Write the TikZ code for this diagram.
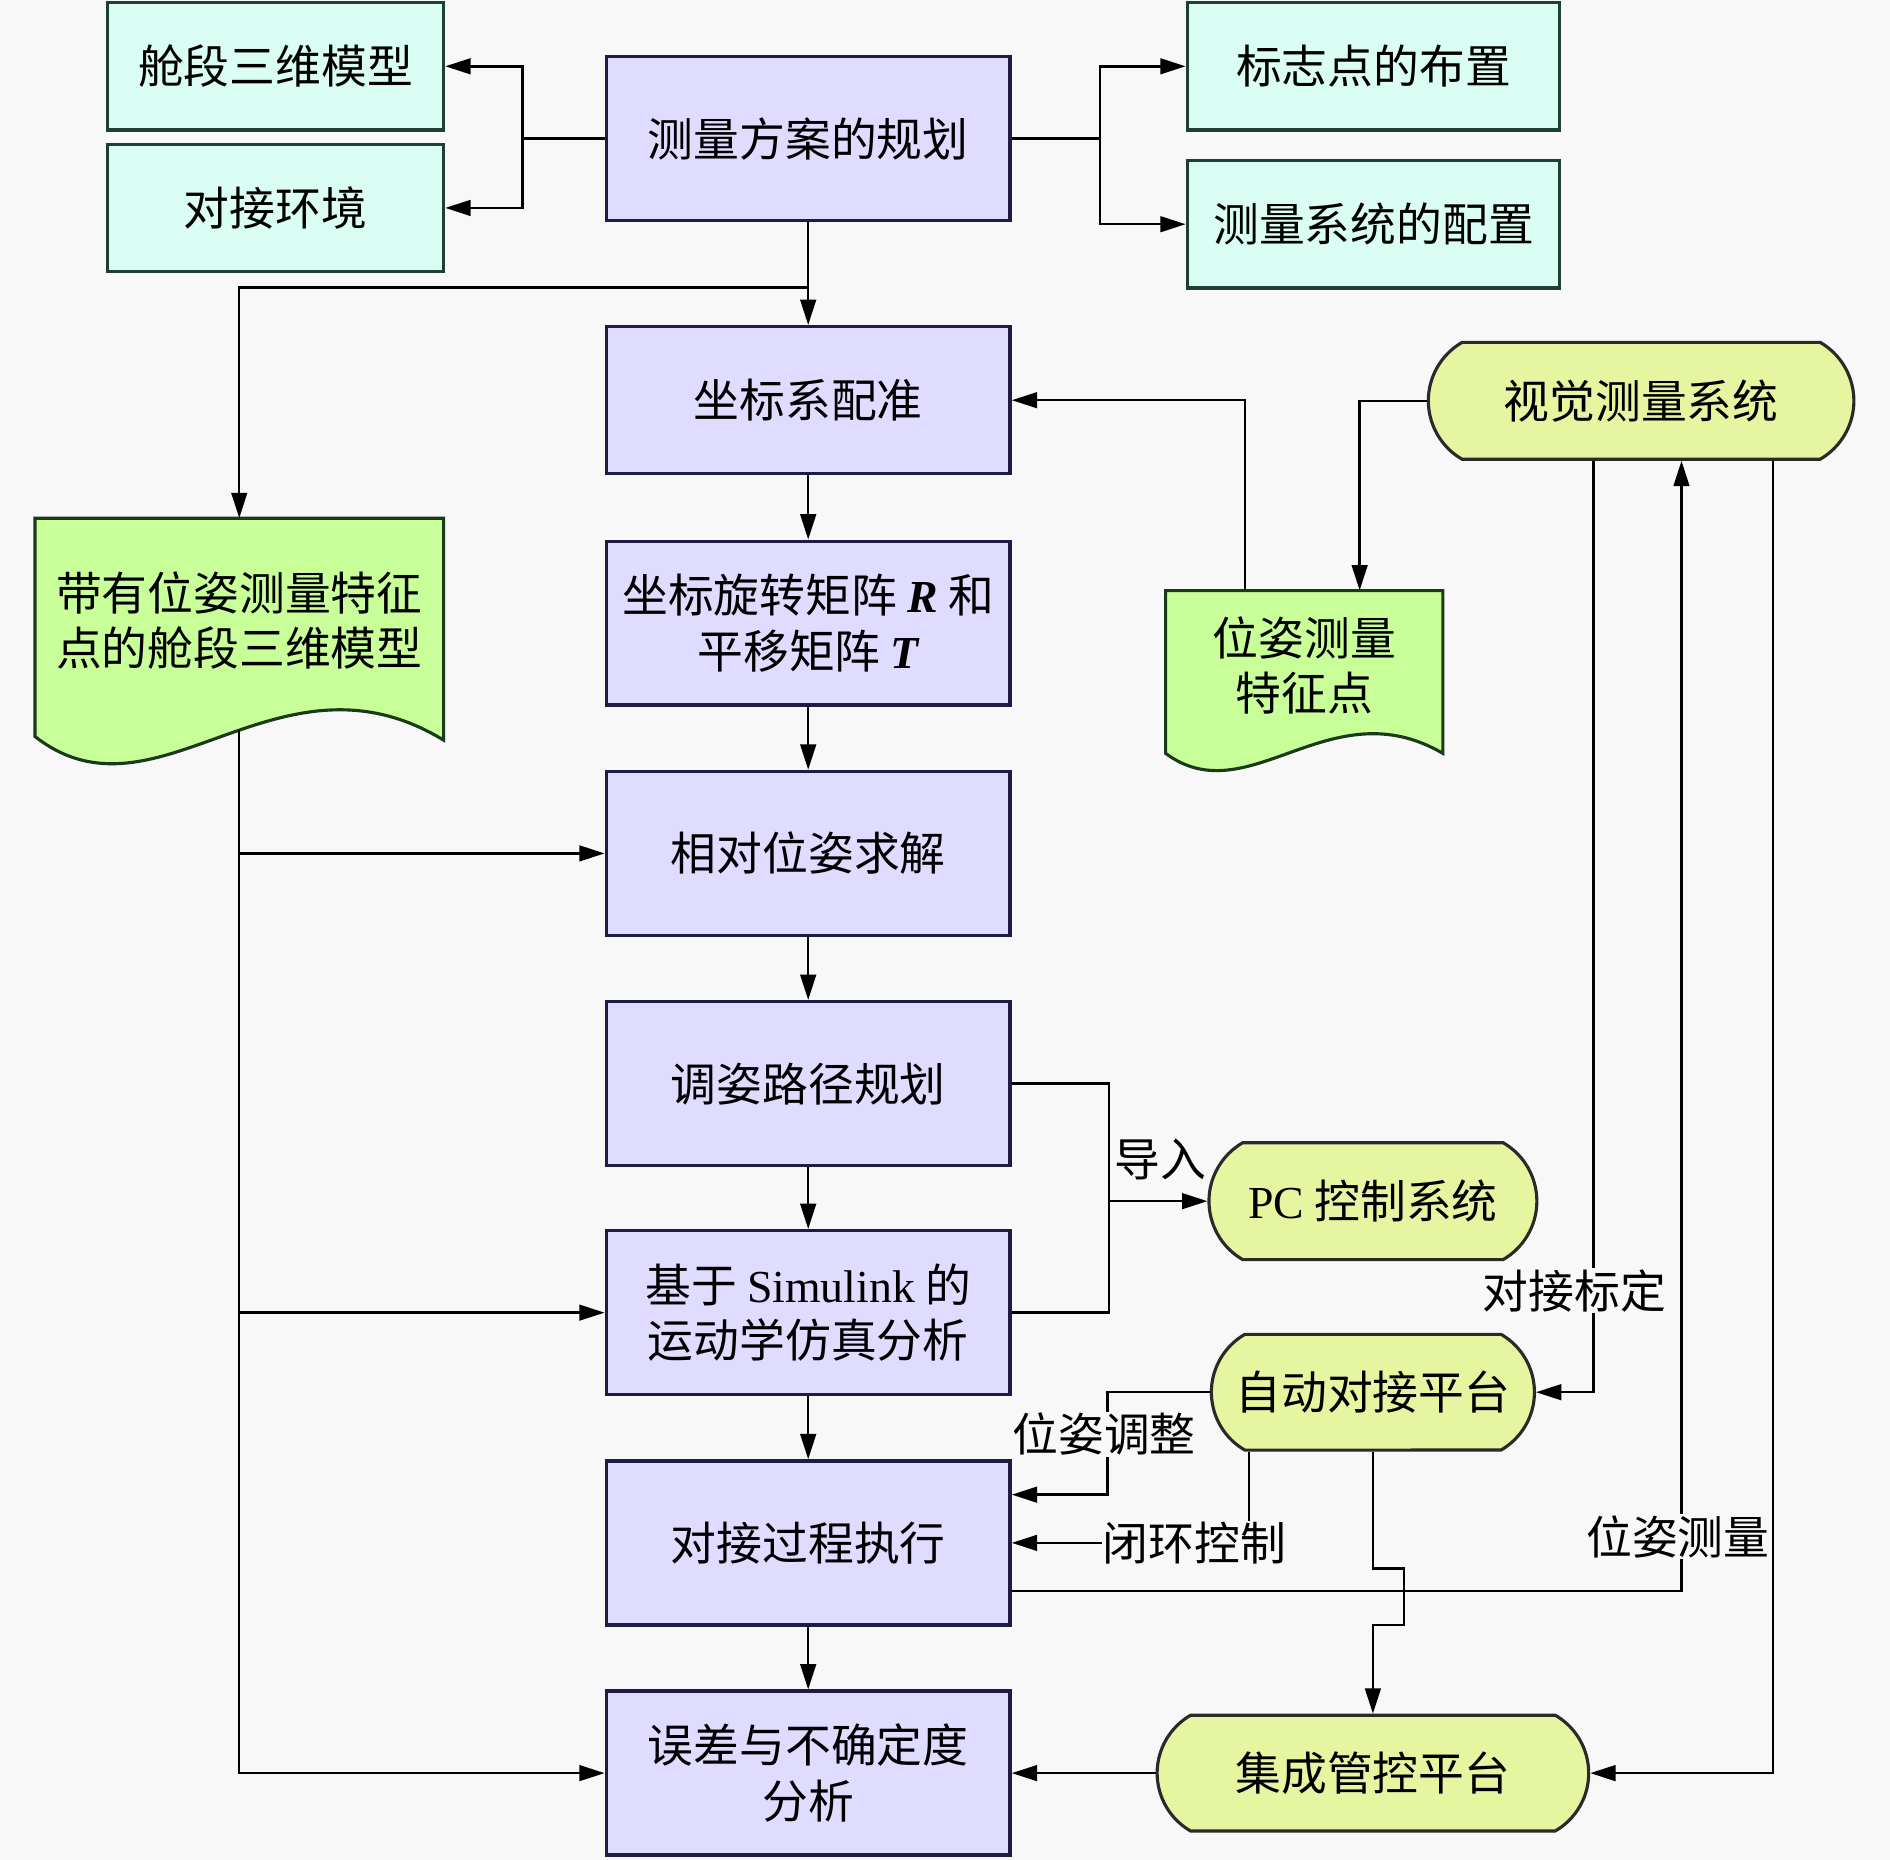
\documentclass[tikz,border=0pt]{standalone}
\usepackage{fontspec}
\setmainfont{Noto Sans CJK SC}
\newfontfamily\lat{Liberation Serif}
\usetikzlibrary{arrows.meta,shapes.misc,calc}
\definecolor{bgc}{HTML}{F8F8F8}
\definecolor{cyanfill}{HTML}{DAFDF4}
\definecolor{cyanline}{HTML}{1F3F36}
\definecolor{lavfill}{HTML}{E0DCFF}
\definecolor{lavline}{HTML}{1C1C45}
\definecolor{docfill}{HTML}{C8FF98}
\definecolor{docline}{HTML}{1A3A1A}
\definecolor{termfill}{HTML}{E6F5A0}
\definecolor{termline}{HTML}{2A2A2A}
\begin{document}
\begin{tikzpicture}[x=1pt,y=-1pt,
  font=\fontsize{38}{46}\selectfont,
  cbox/.style={draw=cyanline,fill=cyanfill,line width=2.8pt,minimum width=279pt,minimum height=106pt,inner sep=0pt},
  lbox/.style={draw=lavline,fill=lavfill,line width=2.8pt,minimum width=335pt,minimum height=136pt,inner sep=0pt,align=center},
  term/.style={rounded rectangle,rounded rectangle arc length=120,draw=termline,fill=termfill,line width=2.6pt,minimum height=97pt,inner sep=0pt},
  docshape/.style={draw=docline,fill=docfill,line width=2.6pt},
  conn/.style={draw=black,line width=2pt},
  arr/.style={conn,-{Triangle[length=21pt,width=13pt]}},
  lbl/.style={fill=bgc,inner sep=1pt}
]
\fill[bgc] (0,0) rectangle (1568,1543);
\useasboundingbox (0,0) rectangle (1568,1543);

% document shapes
\draw[docshape] (29,430) -- (368,430) -- (368,614) .. controls (230,530) and (130,690) .. (29,611) -- cycle;
\draw[docshape] (967,490) -- (1197,490) -- (1197,625) .. controls (1103,570) and (1036,676) .. (967,625) -- cycle;

% nodes
\node[cbox] (m3d) at (228.5,55) {舱段三维模型};
\node[cbox,minimum height=105pt] (env) at (228.5,172.5) {对接环境};
\node[lbox] (plan) at (670.5,115) {测量方案的规划};
\node[cbox,minimum width=309pt] (mark) at (1139.5,55) {标志点的布置};
\node[cbox,minimum width=309pt] (cfg) at (1139.5,186) {测量系统的配置};
\node[lbox,minimum height=122pt] (reg) at (670.5,332) {坐标系配准};
\node[lbox] (rt) at (670.5,517) {坐标旋转矩阵 {\lat\bfseries\itshape R} 和\\平移矩阵 {\lat\bfseries\itshape T}};
\node[lbox] (rel) at (670.5,708) {相对位姿求解};
\node[lbox] (adj) at (670.5,899) {调姿路径规划};
\node[lbox] (sim) at (670.5,1089) {基于 {\lat Simulink} 的\\运动学仿真分析};
\node[lbox] (exec) at (670.5,1280) {对接过程执行};
\node[lbox] (err) at (670.5,1471) {误差与不确定度\\分析};
\node[align=center,inner sep=0pt,minimum width=339pt,minimum height=170pt] (doc1) at (198.5,515) {带有位姿测量特征\\点的舱段三维模型};
\node[align=center,inner sep=0pt,minimum width=230pt,minimum height=124pt] (doc2) at (1082,552) {位姿测量\\特征点};
\node[term,minimum width=353pt] (vis) at (1361.5,332.5) {视觉测量系统};
\node[term,minimum width=272pt] (pc) at (1139,996.5) {{\lat PC} 控制系统};
\node[term,minimum width=268pt,minimum height=96pt] (auto) at (1139,1155) {自动对接平台};
\node[term,minimum width=358pt,minimum height=96pt] (jc) at (1139,1471) {集成管控平台};

\coordinate (d1b) at (198.5,606);
\coordinate (jA) at (920,899);

% top tree
\draw[arr] (plan.west) -- ++(-68,0) |- (m3d.east);
\draw[arr] (plan.west) -- ++(-68,0) |- (env.east);
\draw[arr] (plan.east) -- ++(73,0) |- (mark.west);
\draw[arr] (plan.east) -- ++(73,0) |- (cfg.west);

% main chain
\draw[arr] (plan.south) -- (reg.north);
\draw[arr] ([yshift=-54pt]plan.south) -| (doc1.north);
\draw[arr] (reg.south) -- (rt.north);
\draw[arr] (rt.south) -- (rel.north);
\draw[arr] (rel.south) -- (adj.north);
\draw[arr] (adj.south) -- (sim.north);
\draw[arr] (sim.south) -- (exec.north);
\draw[arr] (exec.south) -- (err.north);

% left trunk
\draw[arr] (d1b) |- (err.west);
\draw[arr] (d1b |- rel.west) -- (rel.west);
\draw[arr] (d1b |- sim.west) -- (sim.west);

% vision system
\draw[arr] ([xshift=-49pt]doc2.north) |- (reg.east);
\draw[arr] (vis.west) -| ([xshift=46pt]doc2.north);
\draw[arr] ([xshift=-39.5pt]vis.south) |- (auto.east);
\draw[arr] ([yshift=-40pt]exec.east) -| ([xshift=33.5pt]vis.south);
\draw[arr] ([xshift=109.5pt]vis.south) |- (jc.east);

% path planning / PC
\draw[conn] (adj.east) -- (jA) |- (sim.east);
\draw[arr] (jA) |- (pc.west);

% auto platform
\draw[arr] (auto.west) -- ++(-85,0) |- ([yshift=40pt]exec.east);
\draw[arr] ([xshift=-103pt]auto.south) |- (exec.east);
\draw[arr] (auto.south) -- ++(0,97) -- ++(26,0) -- ++(0,47) -- ++(-26,0) -- (jc.north);
\draw[arr] (jc.west) -- (err.east);

% labels
\node[lbl] (l1) at (1306,1071) {对接标定};
\node[lbl] (l2) at (1392,1275) {位姿测量};
\node[lbl] (l3) at (916,1190) {位姿调整};
\node[lbl] (l4) at (991,1280) {闭环控制};
\node[inner sep=1pt] (l5) at (963,962) {导入};
\end{tikzpicture}
\end{document}
